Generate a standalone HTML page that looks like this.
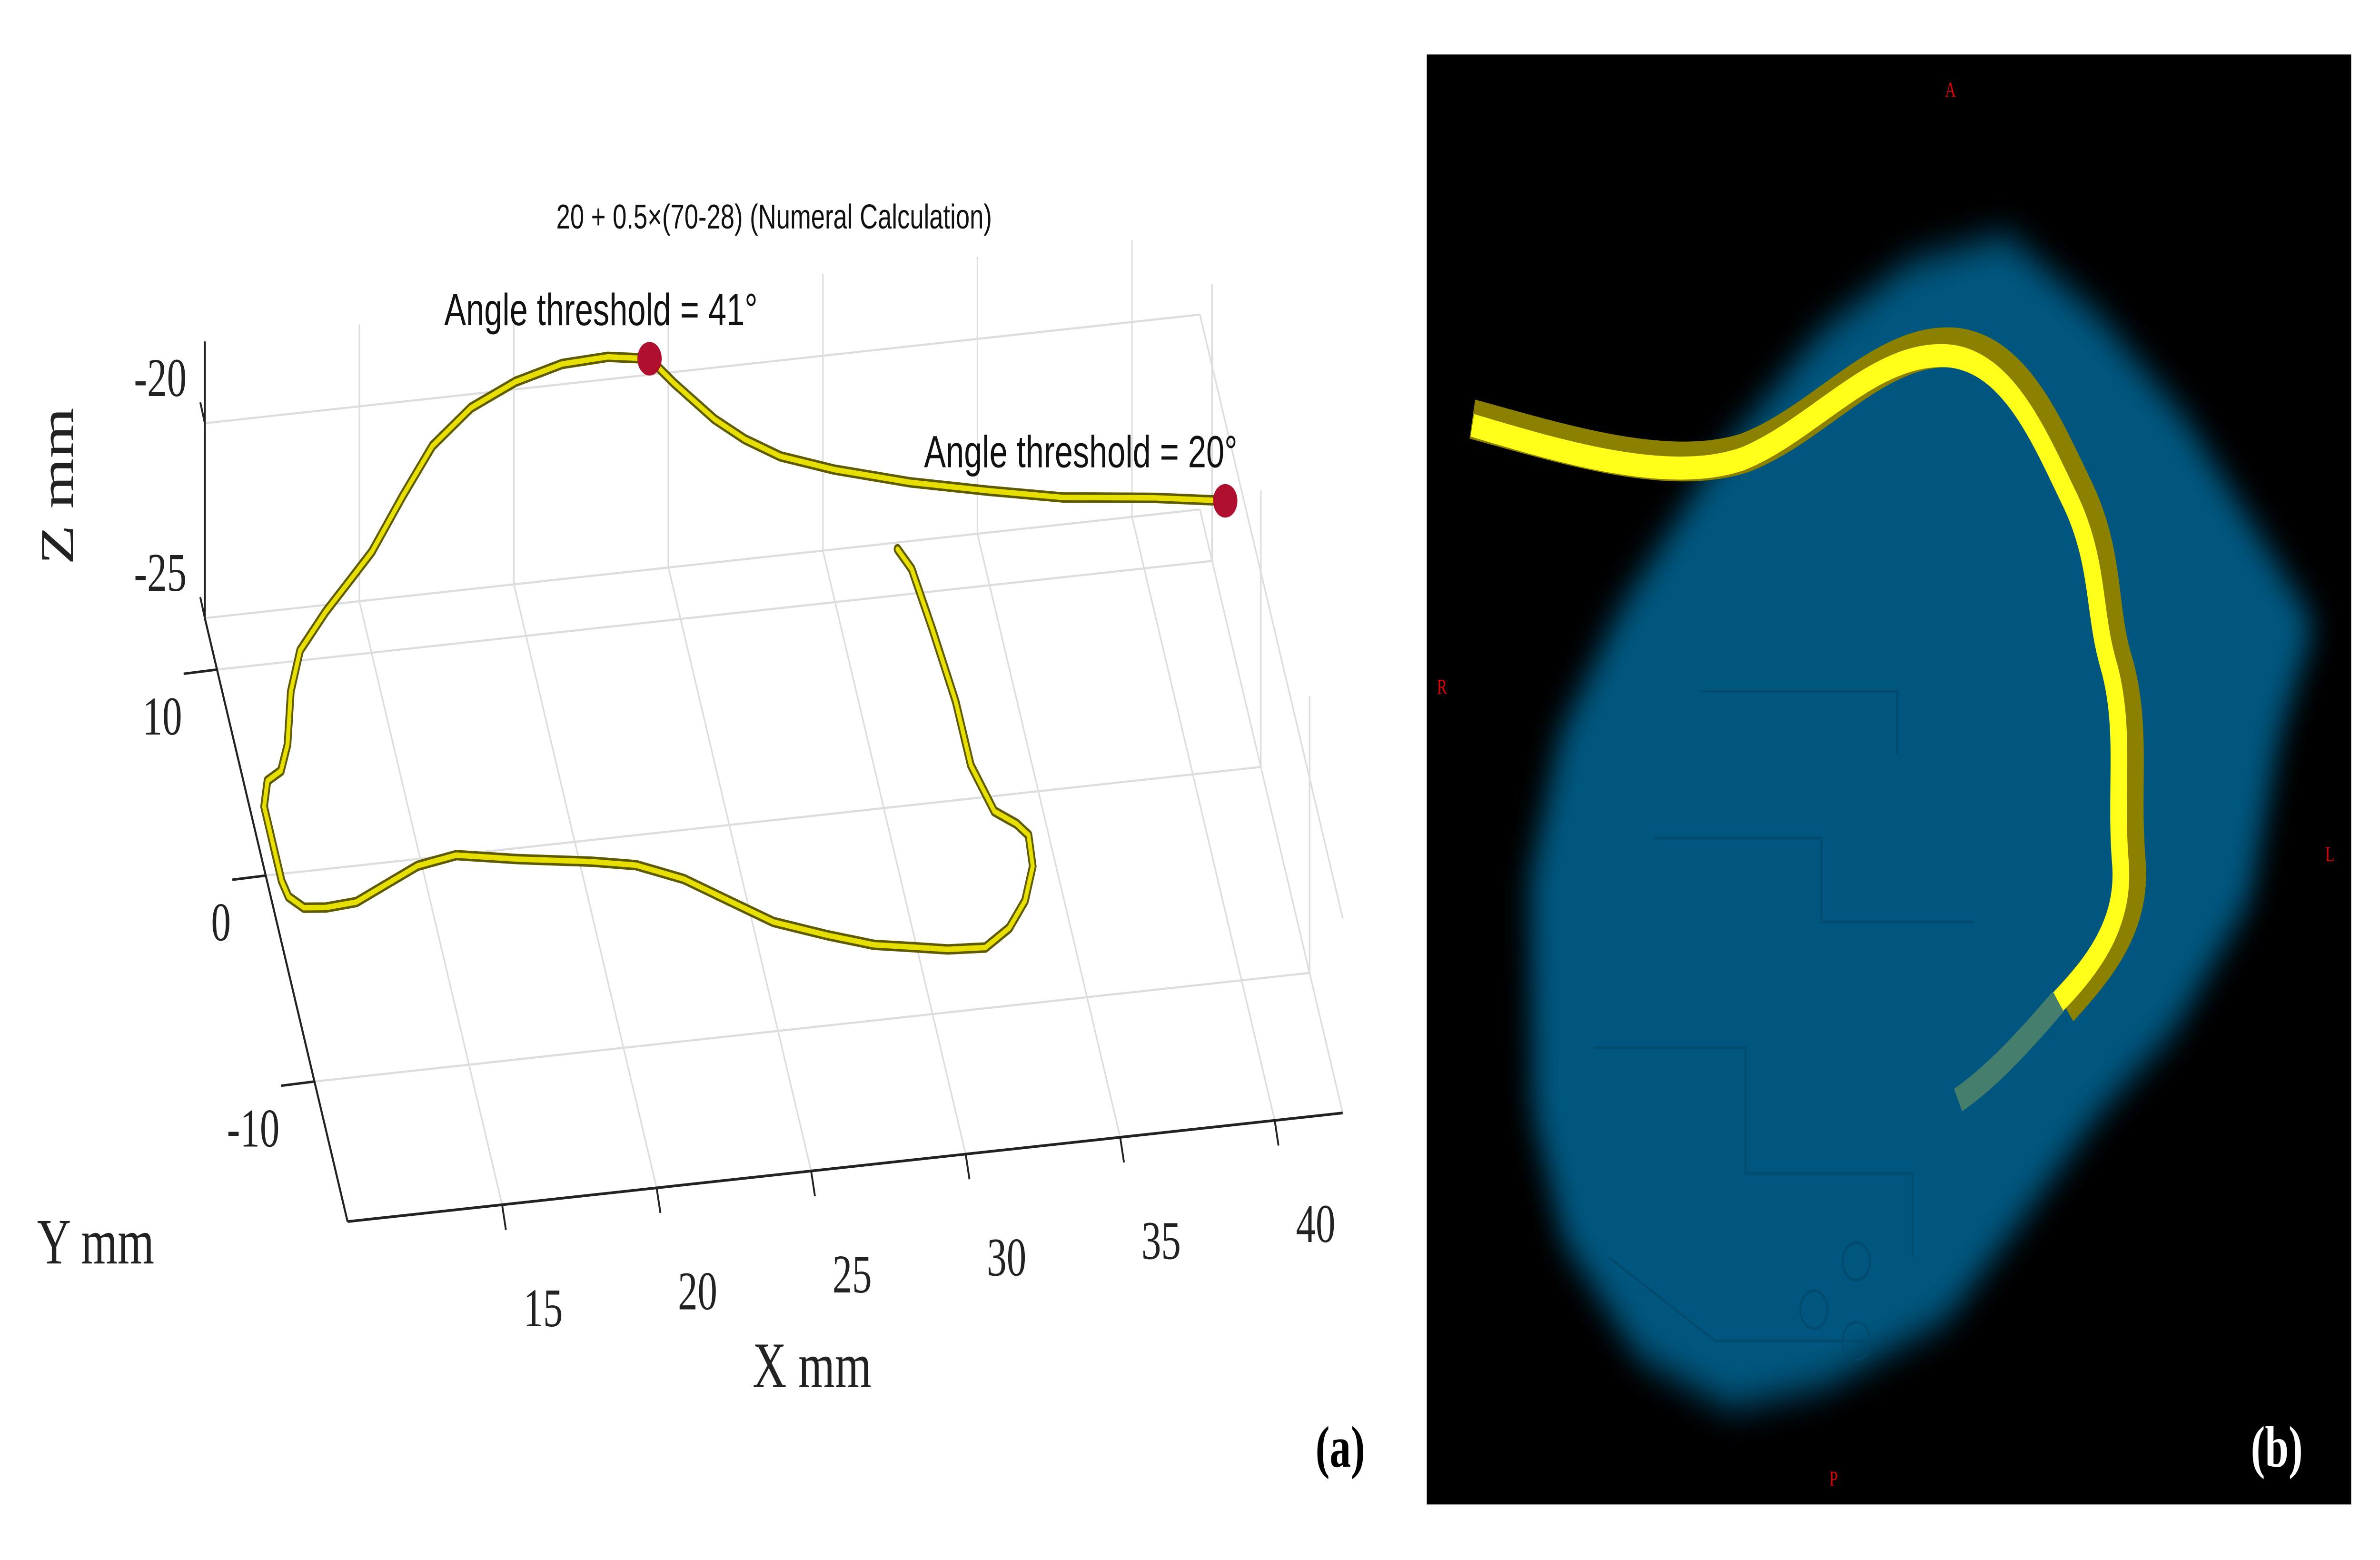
<!DOCTYPE html>
<html><head><meta charset="utf-8"><style>
html,body{margin:0;padding:0;background:#fff;overflow:hidden;width:100%;height:100%;}
svg{display:block;width:100vw;height:100vh;}
</style></head><body>
<svg id="fig" viewBox="0 0 1568 744.5" preserveAspectRatio="none" xmlns="http://www.w3.org/2000/svg">
<defs>
<filter id="blur" x="-20%" y="-20%" width="140%" height="140%"><feGaussianBlur stdDeviation="9"/></filter>
</defs>
<rect x="0" y="0" width="1568" height="744.5" fill="#fff"/>
<g id="panelA"></g>
<g id="panelB">
  <rect x="940" y="26" width="609" height="692" fill="#000"/>
  <path filter="url(#blur)" fill="#00567f" d="M1068,290 L1128,222 L1200,158 L1258,125 L1322,112 L1382,150 L1440,200 L1488,255 L1525,298 L1502,350 L1482,430 L1432,492 L1382,532 L1332,582 L1282,630 L1202,662 L1140,672 L1080,648 L1030,592 L1010,530 L1008,420 L1028,350 Z"/>
  <g fill="none" stroke="#004766" stroke-width="1.2" opacity="0.7">
    <path d="M1050,500 L1150,500 L1150,560 L1260,560 L1260,600"/>
    <path d="M1090,400 L1200,400 L1200,440 L1300,440"/>
    <path d="M1120,330 L1250,330 L1250,360"/>
    <path d="M1060,600 L1130,640 L1230,640"/>
    <circle cx="1195" cy="625" r="9"/><circle cx="1223" cy="602" r="9"/><circle cx="1223" cy="640" r="9"/>
  </g>
  <path fill="none" stroke="#8c8000" stroke-width="19" stroke-linecap="butt" d="M970,200 C1030,212 1100,228 1150,216 C1200,202 1240,162 1290,166 C1330,170 1350,205 1370,235 C1390,265 1385,290 1395,315 C1408,345 1400,375 1404,410 C1408,440 1385,460 1360,480"/>
  <path fill="none" stroke="#ffff1a" stroke-width="11" stroke-linecap="butt" d="M970,203 C1030,216 1100,231 1148,219 C1196,205 1236,166 1286,170 C1324,174 1344,209 1364,239 C1383,268 1379,292 1389,317 C1401,347 1393,377 1397,412 C1400,440 1380,460 1356,478"/>
  <path fill="none" stroke="#c8c850" stroke-width="12" opacity="0.35" d="M1356,478 C1330,500 1310,515 1290,525"/>
  <text x="1285" y="46" fill="#e00000" font-family="Liberation Serif, serif" font-size="10" text-anchor="middle">A</text>
  <text x="950" y="331" fill="#e00000" font-family="Liberation Serif, serif" font-size="10" text-anchor="middle">R</text>
  <text x="1535" y="411" fill="#e00000" font-family="Liberation Serif, serif" font-size="10" text-anchor="middle">L</text>
  <text x="1208" y="709" fill="#e00000" font-family="Liberation Serif, serif" font-size="10" text-anchor="middle">P</text>
  <text x="1500" y="700" fill="#fff" font-family="Liberation Serif, serif" font-weight="bold" font-size="28" text-anchor="middle">(b)</text>
</g>
</svg>
<script>
// ---- Panel (a) data ----
const xTicks = [15, 20, 25, 30, 35, 40];
const yTicks = [-10, 0, 10];
const zTicks = [-25, -20];
const xLabels = ["15", "20", "25", "30", "35", "40"];
const yLabels = ["-10", "0", "10"];
const zLabels = ["-25", "-20"];
const xRange = [10, 42.2];
const yRange = [-16.8, 12.5];
const zRange = [-25, -17.9];
const loopX = [24.8,23.5,22.0,20.4,18.8,17.3,16.0,14.6,13.8,12.7,11.6,11.0,10.5,10.1,9.6,9.3,9.3,9.3,9.4,9.8,10.5,11.5,12.6,13.7,15.0,16.9,19.2,20.6,22.0,23.3,24.5,26.1,27.5,28.7,29.8,31.0,31.9,32.6,33.1,33.2,32.9,32.3,31.9,31.9,31.7,31.5,31.2];
const loopY = [15.1,15.4,15.3,14.7,13.7,12.1,9.9,7.4,6.3,4.8,3.1,1.2,-1.3,-2.5,-2.9,-4.1,-6.2,-7.7,-8.5,-9.1,-9.2,-9.1,-8.4,-7.7,-7.4,-7.9,-8.4,-8.8,-9.7,-11.0,-12.2,-13.1,-13.8,-14.1,-14.4,-14.5,-13.7,-12.5,-10.9,-9.4,-8.8,-8.1,-5.8,-2.7,0.9,3.8,4.8];
const branchX = [24.8,25.4,26.4,27.2,28.2,29.8,32.1,34.5,36.8,39.7,41.9];
const branchY = [15.1,13.8,11.9,10.8,9.8,8.9,7.9,7.1,6.4,5.9,5.4];
const pathZ = -21;
const markerX = [24.8, 41.9];
const markerY = [15.1, 5.4];
const markerLabels = ["Angle threshold = 41°", "Angle threshold = 20°"];

const NS = "http://www.w3.org/2000/svg";
const g = document.getElementById("panelA");
function P(X, Y, Z) {
  const a = X - 10, b = Y + 16.8, c = Z + 25;
  return [229 + 20.36 * a - 3.21 * b, 583 - 1.61 * a - 9.83 * b - 18.6 * c];
}
function mk(tag, attrs) {
  const e = document.createElementNS(NS, tag);
  for (const k in attrs) e.setAttribute(k, attrs[k]);
  g.appendChild(e);
  return e;
}
function line(p, q, stroke, w) {
  return mk("line", {x1: p[0], y1: p[1], x2: q[0], y2: q[1], stroke: stroke, "stroke-width": w});
}
const GC = "#dddddd";
xTicks.forEach(x => {
  const e = line(P(x, yRange[0], zRange[0]), P(x, yRange[1], zRange[0]), GC, 1);
  
  
  const e2 = line(P(x, yRange[1], zRange[0]), P(x, yRange[1], zRange[1]), GC, 1);
  
  
});
yTicks.forEach(y => {
  const e = line(P(xRange[0], y, zRange[0]), P(xRange[1], y, zRange[0]), GC, 1);
  
  
  const e2 = line(P(xRange[1], y, zRange[0]), P(xRange[1], y, zRange[1]), GC, 1);
  
  
});
zTicks.forEach(z => {
  const e = line(P(xRange[0], yRange[1], z), P(xRange[1], yRange[1], z), GC, 1);
  
  
  const e2 = line(P(xRange[1], yRange[1], z), P(xRange[1], yRange[0], z), GC, 1);
  
  
});
const ax = line(P(xRange[0], yRange[0], zRange[0]), P(xRange[1], yRange[0], zRange[0]), "#222", 1.3);


const ay = line(P(xRange[0], yRange[0], zRange[0]), P(xRange[0], yRange[1], zRange[0]), "#222", 1.3);


const az = line(P(xRange[0], yRange[1], zRange[0]), P(xRange[0], yRange[1], zRange[1]), "#222", 1.3);


const TF = "Liberation Serif, serif";
xTicks.forEach((x, i) => {
  const p = P(x, yRange[0], zRange[0]);
  const t = line(p, [p[0] + 2.5, p[1] + 12], "#222", 1.2);
  
  
  const tx = mk("text", {x: p[0] + 27, y: p[1] + 58, "font-family": TF, "font-size": 26, "text-anchor": "middle", fill: "#222"});
  tx.textContent = xLabels[i];
  
  
});
yTicks.forEach((y, i) => {
  const p = P(xRange[0], y, zRange[0]);
  const t = line(p, [p[0] - 22, p[1] + 2], "#222", 1.2);
  
  
  const tx = mk("text", {x: p[0] - 23, y: p[1] + 31, "font-family": TF, "font-size": 26, "text-anchor": "end", fill: "#222"});
  tx.textContent = yLabels[i];
  
  
});
zTicks.forEach((z, i) => {
  const p = P(xRange[0], yRange[1], z);
  const t = line(p, [p[0] - 3, p[1] - 10], "#222", 1.2);
  
  
  const tx = mk("text", {x: p[0] - 12, y: p[1] - 13, "font-family": TF, "font-size": 26, "text-anchor": "end", fill: "#222"});
  tx.textContent = zLabels[i];
  
  
});
const xt = mk("text", {x: 535, y: 662, "font-family": TF, "font-size": 31, "text-anchor": "middle", fill: "#222"});
xt.textContent = "X mm";


const yt = mk("text", {x: 63, y: 603, "font-family": TF, "font-size": 31, "text-anchor": "middle", fill: "#222"});
yt.textContent = "Y mm";


const zt = mk("text", {x: 0, y: 0, "font-family": TF, "font-size": 31, "text-anchor": "middle", fill: "#222", transform: "translate(48,232) rotate(-90)"});
zt.textContent = "Z mm";


function curveD(xs, ys) {
  return xs.map((x, i) => { const p = P(x, ys[i], pathZ); return (i ? "L" : "M") + p[0].toFixed(1) + "," + p[1].toFixed(1); }).join(" ");
}
[[loopX, loopY, 'catheter-path-loop'], [branchX, branchY, 'catheter-path-branch']].forEach(c => {
  const d = curveD(c[0], c[1]);
  const o = mk("path", {d: d, fill: "none", stroke: "#5e5a00", "stroke-width": 5, "stroke-linejoin": "round", "stroke-linecap": "round"});
  
  
  const f = mk("path", {d: d, fill: "none", stroke: "#e6df00", "stroke-width": 2.6, "stroke-linejoin": "round", "stroke-linecap": "round"});
  
  
});
markerX.forEach((x, i) => {
  const p = P(x, markerY[i], pathZ);
  const c = mk("circle", {cx: p[0], cy: p[1], r: 8, fill: "#b01030"});
  
  
  const t = mk("text", {x: i === 0 ? p[0] - 32 : p[0] + 8, y: p[1] - 16, "font-family": "Liberation Sans, sans-serif", "font-size": 21.5, "text-anchor": i === 0 ? "middle" : "end", fill: "#111"});
  t.textContent = markerLabels[i];
  
  
});
const ti = mk("text", {x: 510, y: 109, "font-family": "Liberation Sans, sans-serif", "font-size": 16.5, "text-anchor": "middle", fill: "#111"});
ti.textContent = "20 + 0.5×(70-28) (Numeral Calculation)";


const pa = mk("text", {x: 883, y: 700, "font-family": TF, "font-weight": "bold", "font-size": 28, "text-anchor": "middle", fill: "#000"});
pa.textContent = "(a)";


</script>
</body></html>
